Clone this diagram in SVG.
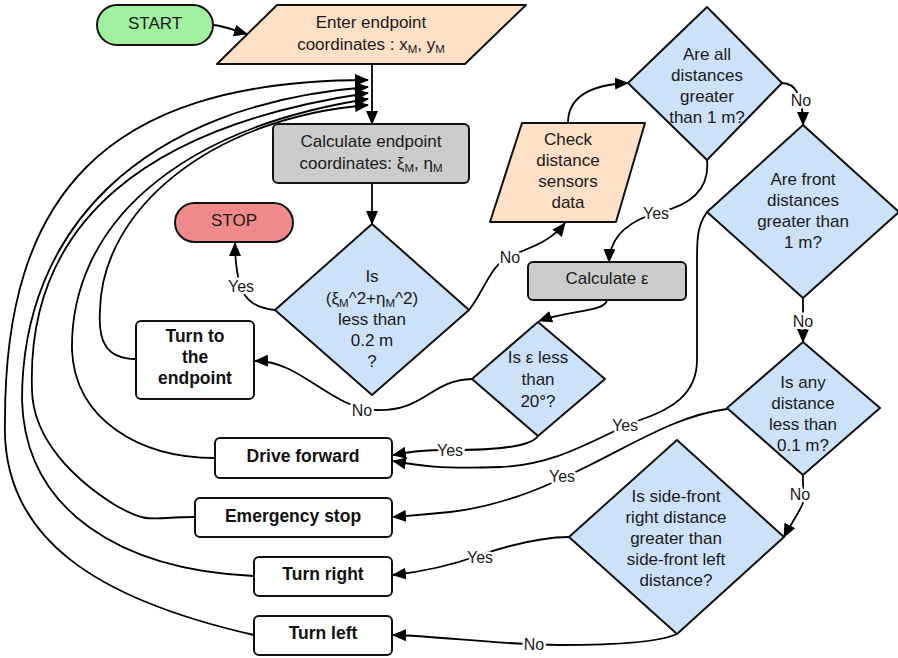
<svg xmlns="http://www.w3.org/2000/svg" width="898" height="658" viewBox="0 0 898 658">
  <defs>
    <marker id="arrow" markerUnits="userSpaceOnUse" markerWidth="14" markerHeight="12" refX="13" refY="6" orient="auto">
      <path d="M0,0 L14,6 L0,12 z" fill="#000"/>
    </marker>
    <style>
      .shape { stroke: #111; stroke-width: 2; stroke-linejoin: round; }
      .start { fill: #a0f0a0; }
      .stop { fill: #f08a8a; }
      .io { fill: #fde0c6; }
      .proc { fill: #cccccc; }
      .dec { fill: #cce2f8; }
      .act { fill: #ffffff; }
      .t { font-family: "Liberation Sans", Arial, sans-serif; font-size: 17px; fill: #1a1a1a; text-anchor: middle; }
      .b { font-family: "Liberation Sans", Arial, sans-serif; font-size: 17.5px; font-weight: bold; fill: #111; text-anchor: middle; }
      .sub { font-size: 11.5px; }
      .edge { fill: none; stroke: #000; stroke-width: 1.8; }
      .arr { marker-end: url(#arrow); }
      .lbl { font-family: "Liberation Sans", Arial, sans-serif; font-size: 16px; fill: #1a1a1a; text-anchor: middle; paint-order: stroke; stroke: #fff; stroke-width: 5px; stroke-linejoin: round; }
    </style>
  </defs>
  <rect width="898" height="658" fill="#fff"/>

  <!-- connectors -->
  <g id="connectors">
    <path class="edge arr" d="M213,25 C225,26 233,30 247,34"/>
    <path class="edge arr" d="M372,64 L372,124"/>
    <path class="edge arr" d="M372,183 L372,224"/>
    <!-- return loops from the action boxes -->
    <path class="edge arr" d="M254,635 C100,600 0,540 5,420 C5,200 100,80 368,80"/>
    <path class="edge arr" d="M254,576 C120,570 25,510 22,400 C22,230 140,105 368,87"/>
    <path class="edge arr" d="M195,517 C150,517 150,525 115,505 C75,480 33,440 32,390 C26,220 150,125 368,93"/>
    <path class="edge arr" d="M215,458 C140,458 75,420 72,350 C70,230 170,130 368,99"/>
    <path class="edge arr" d="M136,359 C105,359 98,340 100,310 C102,210 210,118 368,105"/>
    <!-- decisions -->
    <path class="edge arr" d="M275,310 C255,308 245,300 240,285 C236,270 235,258 235,243"/>
    <path class="edge arr" d="M472,379 C430,380 425,412 375,410 C330,408 300,360 255,361"/>
    <path class="edge arr" d="M469,310 C485,290 490,265 510,256 C535,246 552,240 565,223"/>
    <path class="edge arr" d="M568,123 C568,100 585,85 628,83"/>
    <path class="edge arr" d="M782,83 C795,83 803,95 803,125"/>
    <path class="edge arr" d="M707,160 C710,190 690,205 660,212 C630,220 610,235 609,262"/>
    <path class="edge arr" d="M607,300 C605,312 570,310 539,321"/>
    <path class="edge arr" d="M538,436 C530,448 490,450 450,450 C420,450 410,452 393,455"/>
    <path class="edge arr" d="M707,212 C698,225 697,235 697,260 L697,360 C697,395 670,410 640,420 C600,435 560,465 500,467 C440,469 420,466 393,461"/>
    <path class="edge arr" d="M803,298 L803,342"/>
    <path class="edge arr" d="M727,409 C680,415 640,440 590,465 C560,480 510,505 450,512 C420,515 405,516 393,517"/>
    <path class="edge arr" d="M803,475 L803,503 C798,515 790,525 784,537"/>
    <path class="edge arr" d="M569,537 C540,537 510,545 480,555 C450,566 420,572 393,575"/>
    <path class="edge arr" d="M677,634 C660,642 620,645 560,645 C500,645 440,636 393,635"/>
    <!-- labels -->
    <text class="lbl" x="241" y="292">Yes</text>
    <text class="lbl" x="362" y="416">No</text>
    <text class="lbl" x="510" y="263">No</text>
    <text class="lbl" x="801" y="106">No</text>
    <text class="lbl" x="656" y="219">Yes</text>
    <text class="lbl" x="450" y="456">Yes</text>
    <text class="lbl" x="625" y="431">Yes</text>
    <text class="lbl" x="803" y="327">No</text>
    <text class="lbl" x="562" y="482">Yes</text>
    <text class="lbl" x="800" y="500">No</text>
    <text class="lbl" x="480" y="563">Yes</text>
    <text class="lbl" x="534" y="650">No</text>
  </g>

  <g id="start">
    <rect class="shape start" x="97" y="5" width="116" height="40" rx="20"/>
    <text class="t" x="155" y="29">START</text>
  </g>

  <g id="enter-endpoint">
    <path class="shape io" d="M277,5 L526,5 L465,64 L217,64 Z"/>
    <text class="t" x="371" y="28">Enter endpoint</text>
    <text class="t" x="371" y="50">coordinates : x<tspan class="sub" dy="3">M</tspan><tspan dy="-3">, y</tspan><tspan class="sub" dy="3">M</tspan></text>
  </g>

  <g id="calc-endpoint">
    <rect class="shape proc" x="273" y="124" width="196" height="59" rx="5"/>
    <text class="t" x="371" y="147">Calculate endpoint</text>
    <text class="t" x="371" y="169">coordinates: ξ<tspan class="sub" dy="3">M</tspan><tspan dy="-3">, η</tspan><tspan class="sub" dy="3">M</tspan></text>
  </g>

  <g id="stop">
    <rect class="shape stop" x="175" y="203" width="118" height="39" rx="19.5"/>
    <text class="t" x="234" y="226">STOP</text>
  </g>

  <g id="is-near-endpoint">
    <path class="shape dec" d="M372,224 L469,310 L372,395 L275,310 Z"/>
    <text class="t" x="372" y="282">Is</text>
    <text class="t" x="372" y="304">(ξ<tspan class="sub" dy="3">M</tspan><tspan dy="-3">^2+η</tspan><tspan class="sub" dy="3">M</tspan><tspan dy="-3">^2)</tspan></text>
    <text class="t" x="372" y="325">less than</text>
    <text class="t" x="372" y="346">0.2 m</text>
    <text class="t" x="372" y="367">?</text>
  </g>

  <g id="turn-to-endpoint">
    <rect class="shape act" x="136" y="321" width="118" height="78" rx="5"/>
    <text class="b" x="195" y="342">Turn to</text>
    <text class="b" x="195" y="363">the</text>
    <text class="b" x="195" y="384">endpoint</text>
  </g>

  <g id="check-sensors">
    <path class="shape io" d="M522,123 L645,123 L616,222 L490,222 Z"/>
    <text class="t" x="568" y="145">Check</text>
    <text class="t" x="568" y="166">distance</text>
    <text class="t" x="568" y="187">sensors</text>
    <text class="t" x="568" y="208">data</text>
  </g>

  <g id="all-greater-1m">
    <path class="shape dec" d="M707,7 L782,83 L707,160 L628,83 Z"/>
    <text class="t" x="707" y="60">Are all</text>
    <text class="t" x="707" y="81">distances</text>
    <text class="t" x="707" y="102">greater</text>
    <text class="t" x="707" y="123">than 1 m?</text>
  </g>

  <g id="front-greater-1m">
    <path class="shape dec" d="M803,125 L899,212 L803,298 L707,212 Z"/>
    <text class="t" x="803" y="185">Are front</text>
    <text class="t" x="803" y="206">distances</text>
    <text class="t" x="803" y="227">greater than</text>
    <text class="t" x="803" y="248">1 m?</text>
  </g>

  <g id="calc-epsilon">
    <rect class="shape proc" x="528" y="262" width="158" height="38" rx="5"/>
    <text class="t" x="607" y="284">Calculate ε</text>
  </g>

  <g id="epsilon-less-20">
    <path class="shape dec" d="M538,322 L605,379 L538,436 L472,379 Z"/>
    <text class="t" x="538" y="363">Is ε less</text>
    <text class="t" x="538" y="385">than</text>
    <text class="t" x="538" y="407">20°?</text>
  </g>

  <g id="any-less-01m">
    <path class="shape dec" d="M803,342 L880,408 L803,475 L727,408 Z"/>
    <text class="t" x="803" y="388">Is any</text>
    <text class="t" x="803" y="409">distance</text>
    <text class="t" x="803" y="430">less than</text>
    <text class="t" x="803" y="451">0.1 m?</text>
  </g>

  <g id="side-front-compare">
    <path class="shape dec" d="M677,440 L784,537 L677,634 L569,537 Z"/>
    <text class="t" x="676" y="502">Is side-front</text>
    <text class="t" x="676" y="523">right distance</text>
    <text class="t" x="676" y="544">greater than</text>
    <text class="t" x="676" y="565">side-front left</text>
    <text class="t" x="676" y="586">distance?</text>
  </g>

  <g id="drive-forward">
    <rect class="shape act" x="215" y="438" width="177" height="40" rx="5"/>
    <text class="b" x="303" y="462">Drive forward</text>
  </g>

  <g id="emergency-stop">
    <rect class="shape act" x="195" y="498" width="197" height="39" rx="5"/>
    <text class="b" x="293" y="522">Emergency stop</text>
  </g>

  <g id="turn-right">
    <rect class="shape act" x="254" y="557" width="138" height="39" rx="5"/>
    <text class="b" x="323" y="580">Turn right</text>
  </g>

  <g id="turn-left">
    <rect class="shape act" x="254" y="616" width="138" height="39" rx="5"/>
    <text class="b" x="323" y="639">Turn left</text>
  </g>
</svg>
